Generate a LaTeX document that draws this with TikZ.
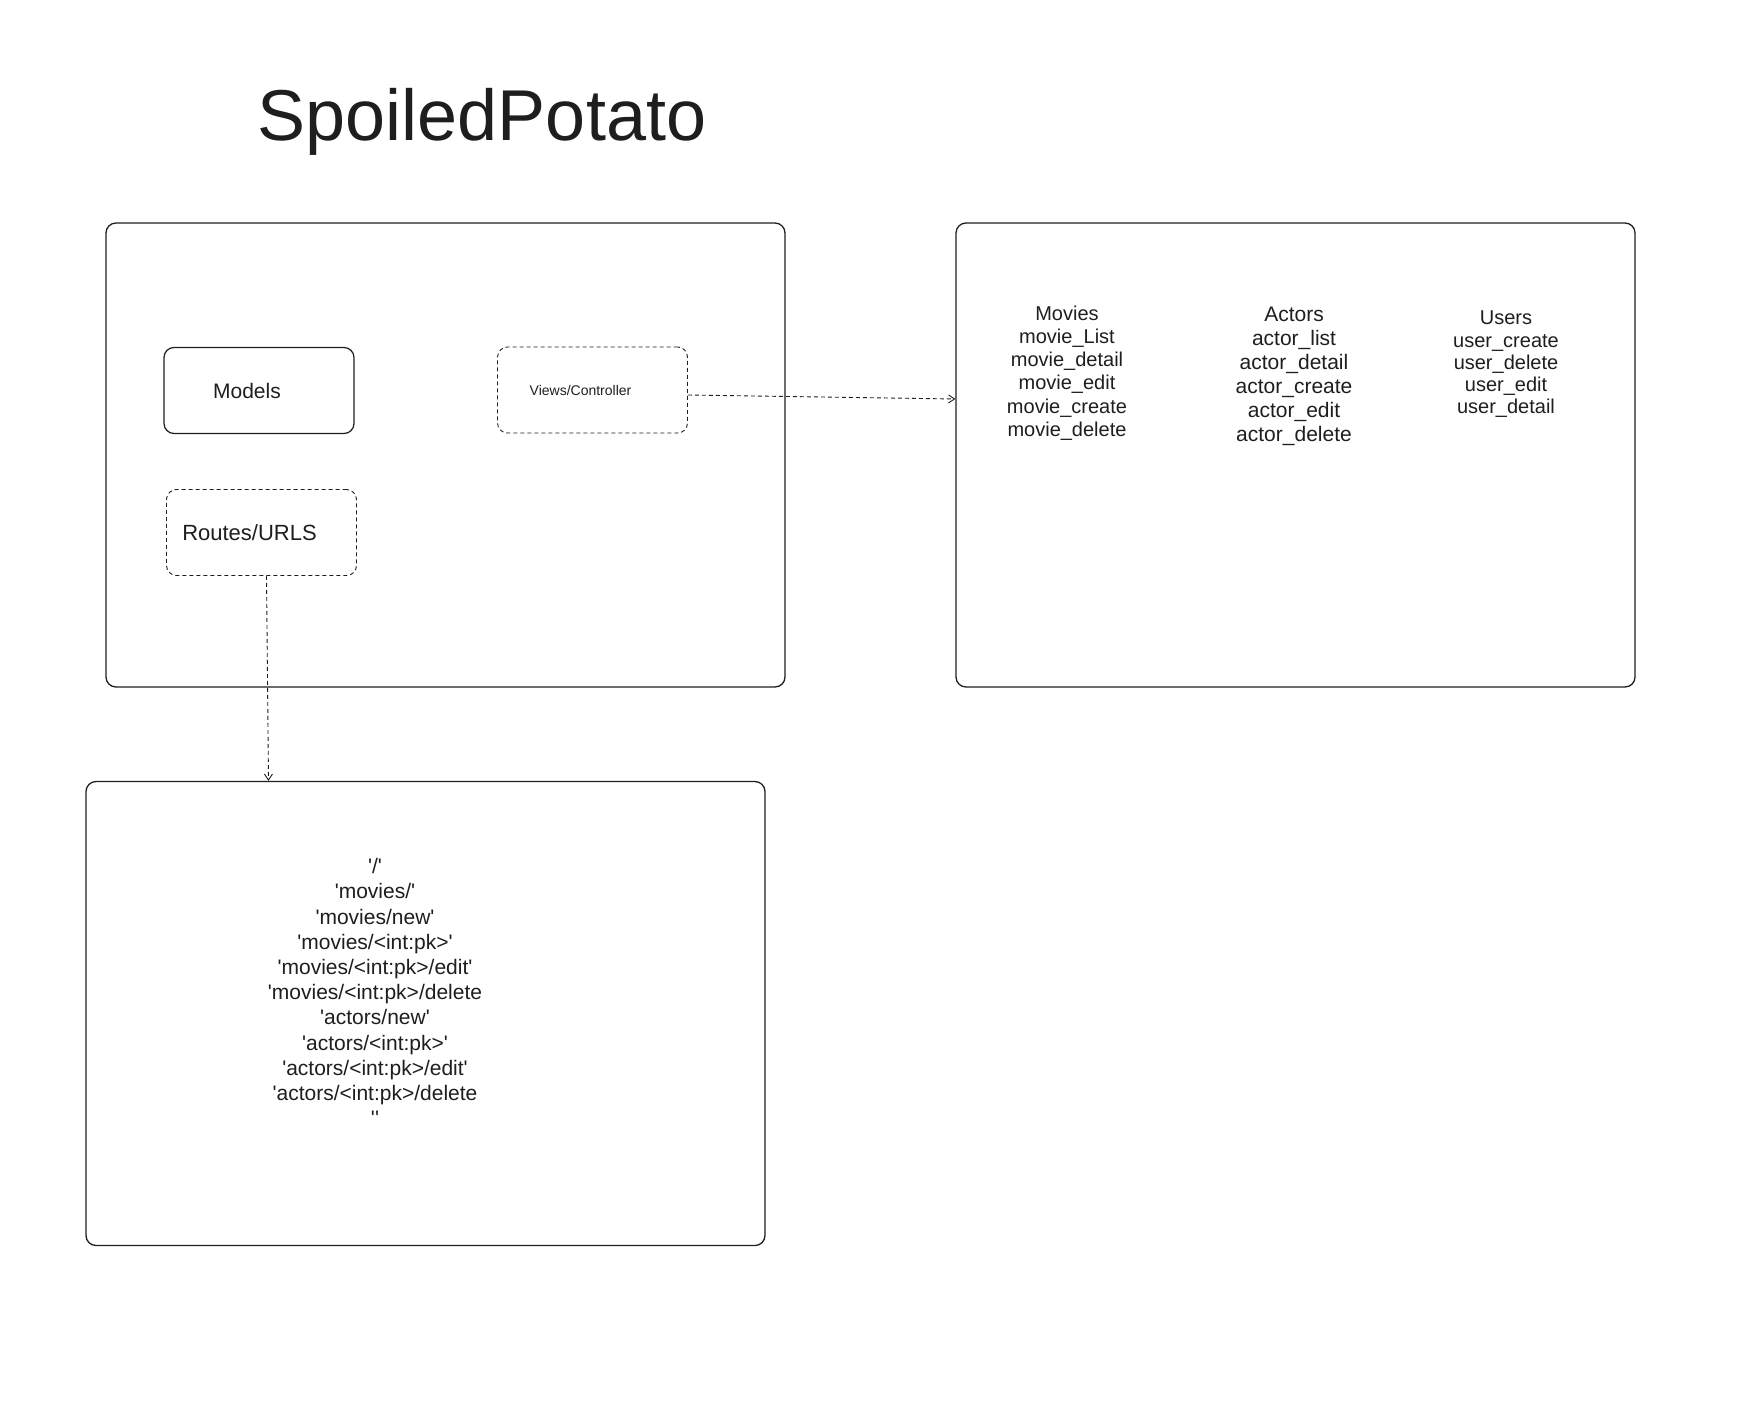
\documentclass[tikz,border=0pt]{standalone}
\usepackage{fontspec}
\usetikzlibrary{arrows.meta}
\newfontfamily\sketchfont{Liberation Sans}
\definecolor{ink}{HTML}{1E1E1E}

\begin{document}
\begin{tikzpicture}[x = 1pt, y = -1pt,
            every node/.style = {font = \sketchfont, text = ink, align = center},
            panel/.style = {draw = ink, line width = 1.3pt, rounded corners = 10pt,
                            minimum width = 679pt, minimum height = 464pt},
            card/.style = {draw = ink, line width = 1.2pt, rounded corners = 10pt,
                           minimum width = 190pt, minimum height = 86pt},
            dashcard/.style = {card, line width = 0.9pt, dash pattern = on 4pt off 3pt},
            link/.style = {draw = ink, line width = 0.9pt, dash pattern = on 4pt off 3pt,
                           -{Straight Barb[length = 6pt, width = 8pt]}}
            ]
            \useasboundingbox (0,0) rectangle (1756,1400);
            \node[anchor = base, font = \sketchfont\fontsize{72}{80}\selectfont] (title) at (482,140) {SpoiledPotato};

            % panels
            \node[panel] (appbox) at (445.5,455) {};
            \node[panel] (viewsbox) at (1295.5,455) {};
            \node[panel] (urlsbox) at (425.5,1013.5) {};

            % inside the app
            \node[card, font = \sketchfont\fontsize{21}{24}\selectfont] (models) at (259,390.5) {Models\hspace*{24pt}};
            \node[dashcard, font = \sketchfont\fontsize{14}{16}\selectfont] (views) at (592.5,390) {Views/Controller\hspace*{24pt}};
            \node[dashcard, font = \sketchfont\fontsize{22}{25}\selectfont] (routes) at (261.5,532.5) {Routes/URLS\hspace*{24pt}};

            % view names
            \node[font = \sketchfont\fontsize{20}{23.2}\selectfont] (movies) at (1067,373)
                 {Movies\\movie\_List\\movie\_detail\\movie\_edit\\movie\_create\\movie\_delete};
            \node[font = \sketchfont\fontsize{21}{24}\selectfont] (actors) at (1294,376)
                 {Actors\\actor\_list\\actor\_detail\\actor\_create\\actor\_edit\\actor\_delete};
            \node[font = \sketchfont\fontsize{20}{22.3}\selectfont] (users) at (1506,364.5)
                 {Users\\user\_create\\user\_delete\\user\_edit\\user\_detail};

            % url patterns
            \node[font = \sketchfont\fontsize{21}{25.2}\selectfont] (urllist) at (375,992)
                 {'/'\\'movies/'\\'movies/new'\\'movies/<int:pk>'\\'movies/<int:pk>/edit'\\
                  'movies/<int:pk>/delete\\'actors/new'\\'actors/<int:pk>'\\
                  'actors/<int:pk>/edit'\\'actors/<int:pk>/delete\\''};

            \draw[link] ([yshift = -5pt]views.east) -- ([yshift = -9pt]views.east -| viewsbox.west);
            \draw[link] ([xshift = 5pt]routes.south) -- ([xshift = 7pt]routes.south |- urlsbox.north);
          \end{tikzpicture}
\end{document}
